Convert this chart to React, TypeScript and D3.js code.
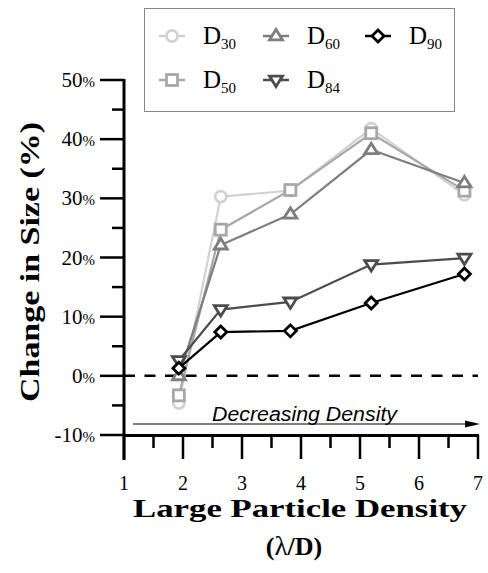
import React from "react";
import * as d3 from "d3";

const xValues = [1.93, 2.64, 3.82, 5.19, 6.77];
const seriesNames = ["D30", "D50", "D60", "D84", "D90"];
const d30 = [-4.6, 30.3, 31.3, 41.8, 30.6];
const d50 = [-3.3, 24.7, 31.4, 41.0, 31.3];
const d60 = [0.0, 22.1, 27.3, 38.2, 32.6];
const d84 = [2.6, 11.2, 12.5, 18.8, 19.9];
const d90 = [1.3, 7.4, 7.6, 12.3, 17.2];
const xTicks = [1, 2, 3, 4, 5, 6, 7];
const yTicks = [-10, 0, 10, 20, 30, 40, 50];

const seriesData = [d30, d50, d60, d84, d90];
const colors = ["#d2d2d2", "#a8a8a8", "#7e7e7e", "#4c4c4c", "#000000"];
const shapes = ["circle", "square", "triangle", "triangleDown", "diamond"];
const subs = ["30", "50", "60", "84", "90"];

function Marker({ shape, cx, cy, color }: { shape: string; cx: number; cy: number; color: string }) {
  const sw = 2.8;
  if (shape === "circle") return <circle cx={cx} cy={cy} r={5.5} fill="white" stroke={color} strokeWidth={sw} />;
  if (shape === "square") return <rect x={cx - 5.5} y={cy - 5.5} width={11} height={11} fill="white" stroke={color} strokeWidth={sw} />;
  if (shape === "triangle") {
    const s = 6.5;
    return <path d={`M${cx},${cy - s}L${cx + s},${cy + s * 0.6}L${cx - s},${cy + s * 0.6}Z`} fill="white" stroke={color} strokeWidth={sw} />;
  }
  if (shape === "triangleDown") {
    const s = 6.5;
    return <path d={`M${cx},${cy + s}L${cx + s},${cy - s * 0.6}L${cx - s},${cy - s * 0.6}Z`} fill="white" stroke={color} strokeWidth={sw} />;
  }
  const s = 6;
  return <path d={`M${cx},${cy - s}L${cx + s},${cy}L${cx},${cy + s}L${cx - s},${cy}Z`} fill="white" stroke={color} strokeWidth={sw} />;
}

export default function App() {
  const W = 488, H = 573;
  const x = d3.scaleLinear().domain([1, 7]).range([124, 478]);
  const y = d3.scaleLinear().domain([-10, 50]).range([435, 80]);
  const line = d3.line<number>().x((_, i) => x(xValues[i])).y((v) => y(v));
  const minorX = d3.range(1.5, 7, 1);
  const minorY = d3.range(-5, 50, 10);
  const serif = "Liberation Serif";
  const legendPos = [
    [172, 36], [172, 80], [276, 36], [276, 80], [378, 36],
  ];
  return (
    <svg width={W} height={H} style={{ position: "absolute", left: 0, top: 0 }}>
      <rect width={W} height={H} fill="white" />
      {/* legend box */}
      <rect x={144.5} y={8.5} width={310} height={103} fill="white" stroke="#888" strokeWidth={1} />
      {seriesNames.map((n, i) => {
        const [lx, ly] = legendPos[i];
        return (
          <g key={n}>
            <line x1={lx - 13} x2={lx + 13} y1={ly} y2={ly} stroke={colors[i]} strokeWidth={2.5} />
            <Marker shape={shapes[i]} cx={lx} cy={ly} color={colors[i]} />
            <text x={lx + 31} y={ly + 8} fontFamily={serif} fontSize={25} fill="#000">
              D<tspan fontSize={15} dy={5}>{subs[i]}</tspan>
            </text>
          </g>
        );
      })}
      {/* y axis */}
      <line x1={124} x2={124} y1={79} y2={460} stroke="#000" strokeWidth={3} />
      {yTicks.map((t) => (
        <g key={t}>
          <line x1={100} x2={124} y1={y(t)} y2={y(t)} stroke="#000" strokeWidth={2.5} />
          <text x={95} y={y(t) + 7} textAnchor="end" fontFamily={serif} fontSize={21}>
            {t}<tspan fontSize={15}>%</tspan>
          </text>
        </g>
      ))}
      {minorY.map((t) => (
        <line key={t} x1={112} x2={124} y1={y(t)} y2={y(t)} stroke="#000" strokeWidth={2.5} />
      ))}
      {/* x axis */}
      <line x1={123} x2={479} y1={435.5} y2={435.5} stroke="#000" strokeWidth={3} />
      {xTicks.map((t) => (
        <g key={t}>
          <line x1={x(t)} x2={x(t)} y1={435} y2={459} stroke="#000" strokeWidth={2.5} />
          <text x={x(t)} y={490} textAnchor="middle" fontFamily={serif} fontSize={20}>{t}</text>
        </g>
      ))}
      {minorX.map((t) => (
        <line key={t} x1={x(t)} x2={x(t)} y1={435} y2={448} stroke="#000" strokeWidth={2.5} />
      ))}
      {/* zero dashed line */}
      <line x1={124} x2={478} y1={y(0)} y2={y(0)} stroke="#000" strokeWidth={2.5} strokeDasharray="11,9.5" />
      {/* decreasing density arrow */}
      <line x1={133} x2={468} y1={424} y2={424} stroke="#000" strokeWidth={1.2} />
      <path d="M480,424L465,420.5L465,427.5Z" fill="#000" />
      <text x={212} y={421} fontFamily="Liberation Sans" fontStyle="italic" fontSize={20} textLength={185} lengthAdjust="spacingAndGlyphs">Decreasing Density</text>
      {/* series */}
      {seriesData.map((vals, i) => (
        <g key={seriesNames[i]}>
          <path d={line(vals) || ""} fill="none" stroke={colors[i]} strokeWidth={2.2} />
          {vals.map((v, j) => (
            <Marker key={j} shape={shapes[i]} cx={x(xValues[j])} cy={y(v)} color={colors[i]} />
          ))}
        </g>
      ))}
      {/* axis titles */}
      <text x={300} y={517} textAnchor="middle" fontFamily={serif} fontWeight="bold" fontSize={26} textLength={334} lengthAdjust="spacingAndGlyphs">Large Particle Density</text>
      <text x={294} y={555} textAnchor="middle" fontFamily={serif} fontWeight="bold" fontSize={26}>
        (<tspan fontWeight="normal" fontSize={27}>λ</tspan>/D)
      </text>
      <text transform="translate(39,262) rotate(-90)" textAnchor="middle" fontFamily={serif} fontWeight="bold" fontSize={27} textLength={280} lengthAdjust="spacingAndGlyphs">Change in Size (%)</text>
    </svg>
  );
}
